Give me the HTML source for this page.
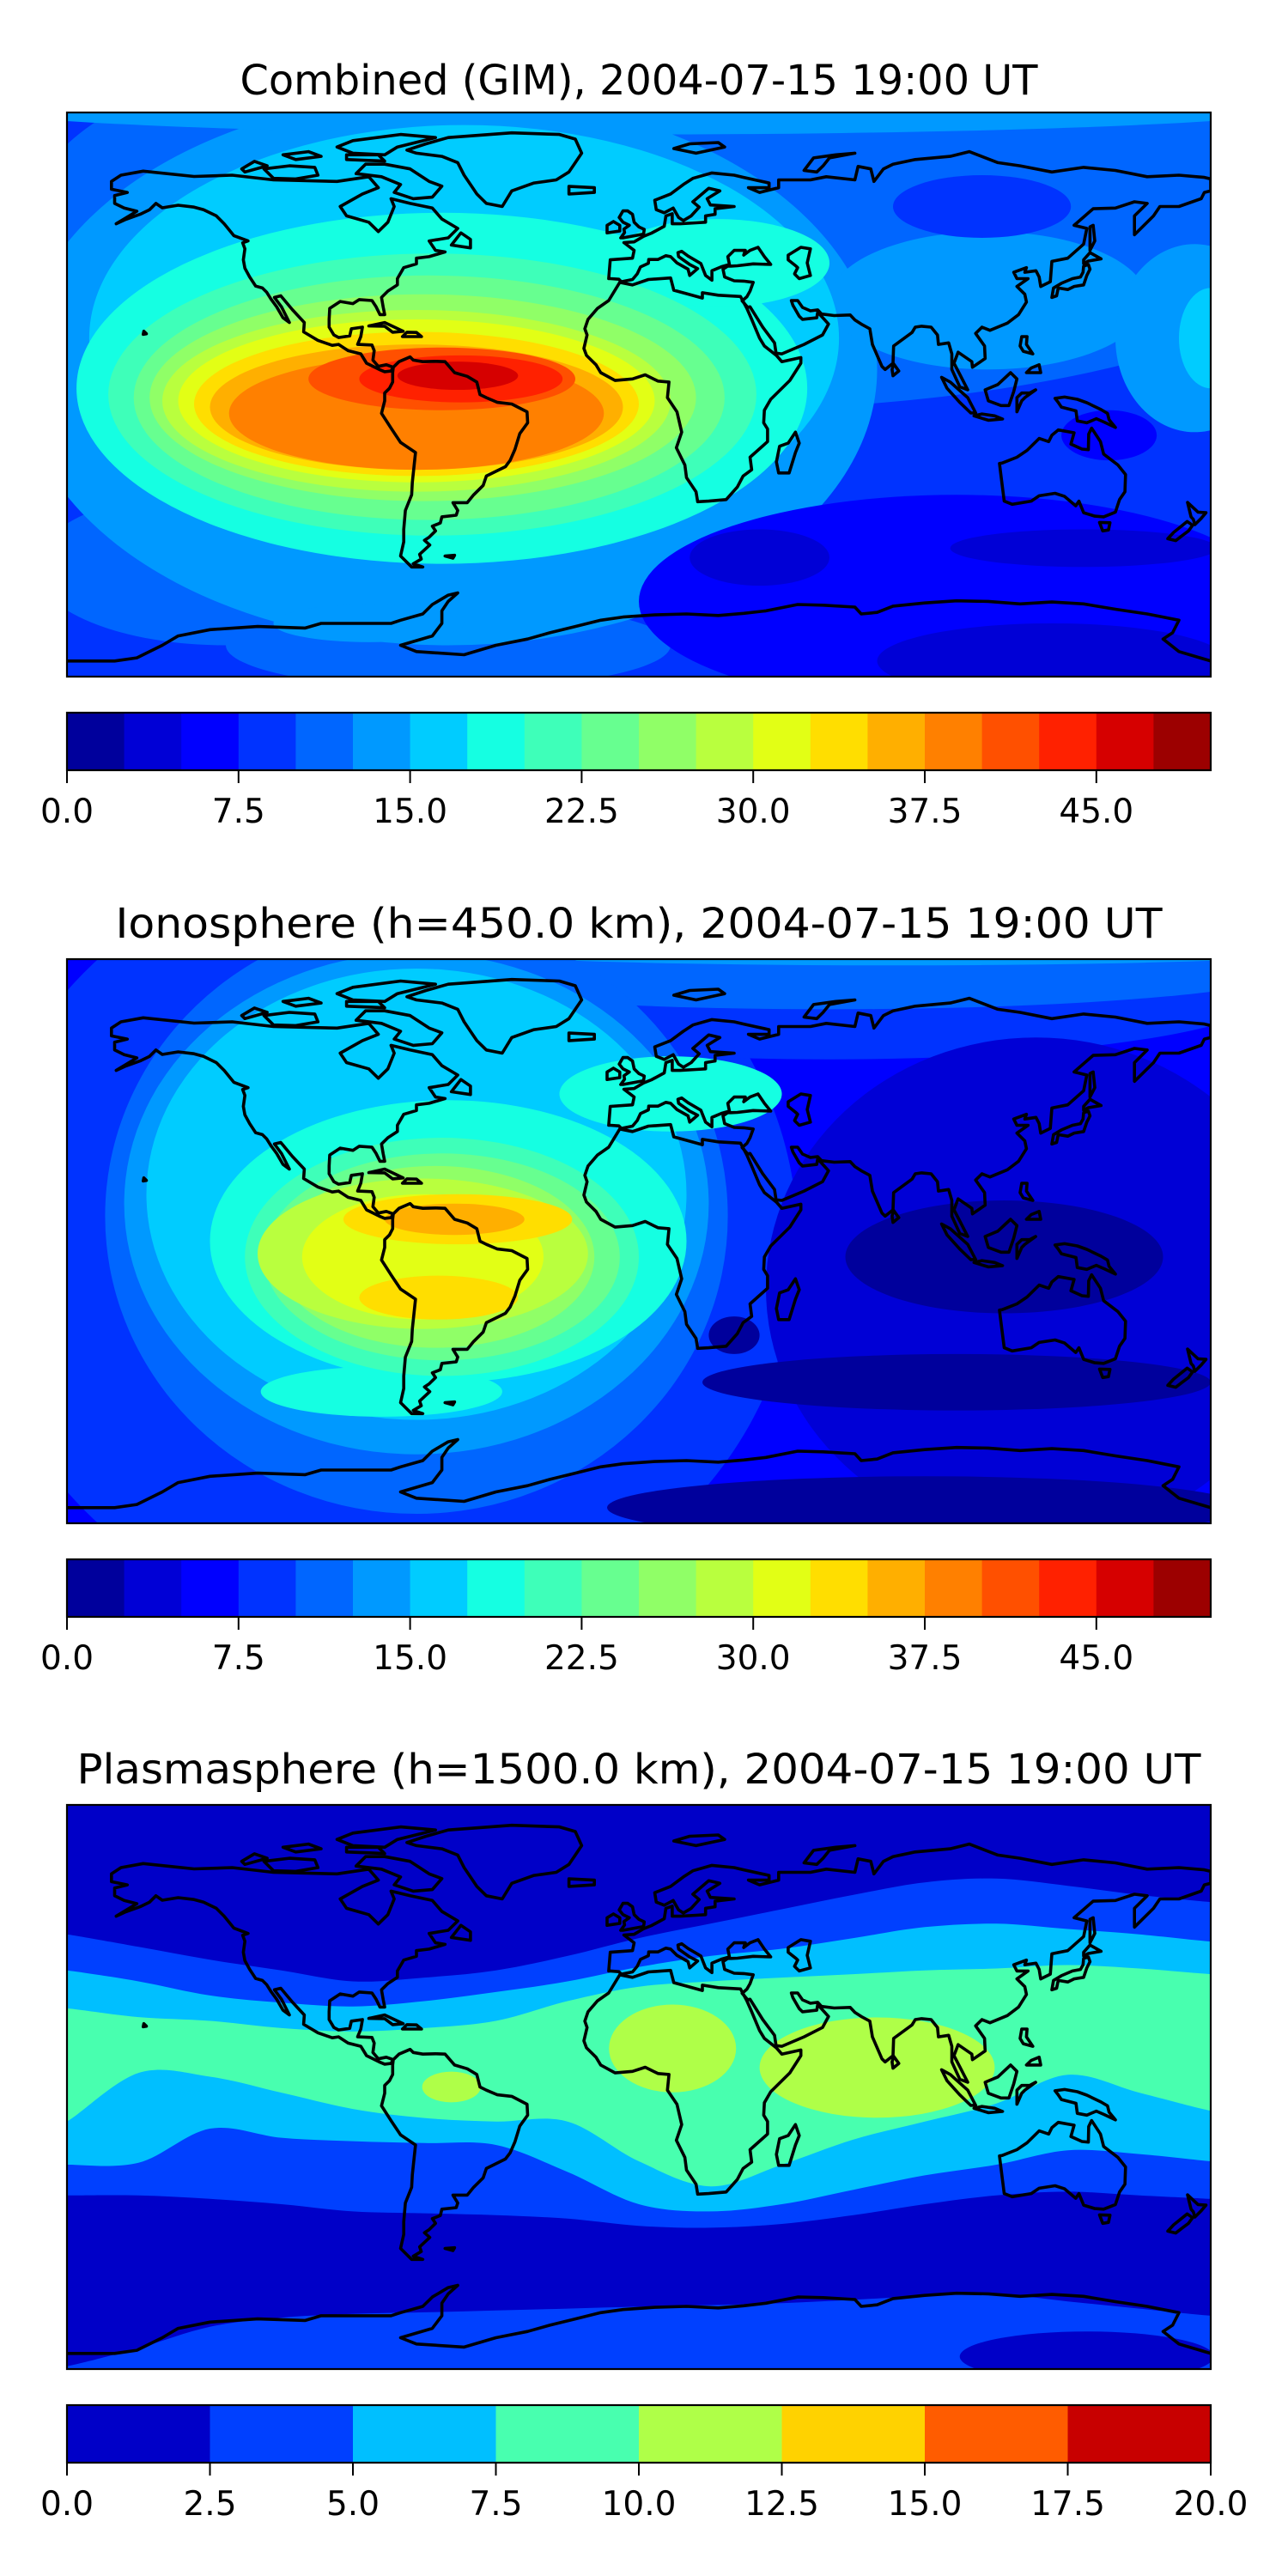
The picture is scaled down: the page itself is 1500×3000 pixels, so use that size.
<!DOCTYPE html>
<html>
<head>
<meta charset="utf-8">
<style>
html,body{margin:0;padding:0;background:#fff;}
svg{display:block;}
text{font-family:"DejaVu Sans","Liberation Sans",sans-serif;fill:#000;}
</style>
</head>
<body>
<svg id="fig" width="1500" height="3000" viewBox="0 0 1500 3000" xmlns="http://www.w3.org/2000/svg">
<defs>
<clipPath id="clip0"><rect x="78" y="131" width="1332" height="657"/></clipPath>
<clipPath id="clip1"><rect x="78" y="1117" width="1332" height="657"/></clipPath>
<clipPath id="clip2"><rect x="78" y="2102" width="1332" height="657"/></clipPath>
</defs>
</svg>
<script>
// ---------- data ----------
const panelTitles = ["Combined (GIM), 2004-07-15 19:00 UT","Ionosphere  (h=450.0 km), 2004-07-15 19:00 UT","Plasmasphere (h=1500.0 km), 2004-07-15 19:00 UT"];
const titleWidths = [929, 1219, 1309];
const gimLevelCount = 20, gimMax = 50;
const plasmaLevelCount = 8, plasmaMax = 20;
const gimTickValues = [0, 7.5, 15, 22.5, 30, 37.5, 45];
const gimTickLabels = ["0.0","7.5","15.0","22.5","30.0","37.5","45.0"];
const plasmaTickValues = [0, 2.5, 5, 7.5, 10, 12.5, 15, 17.5, 20];
const plasmaTickLabels = ["0.0","2.5","5.0","7.5","10.0","12.5","15.0","17.5","20.0"];

// blobs: [lon, lat, rxDeg, ryDeg, levelIndex]
const combinedBase = 3;
const combinedBlobs = [
 [20,60,210,65,4],[-130,-55,60,25,4],[-60,-80,70,14,4],
 [-60,8,135,88,5],[0,93,220,10,5],[110,30,50,22,5],[175,18,25,30,5],[-85,-73,30,6,5],
 [-55,18,118,68,6],[180,18,10,16,6],
 [100,-66,100,34,2],[38,-52,22,9,1],[140,-49,42,6,1],[130,-85,55,12,1],[108,60,28,10,3],[148,-13,15,8,2],
 [-62,2,115,56,7],[25,42,35,14,7],
 [-65,0,102,45,8],[-66,-1,93,39,9],[-68,-1,86,33,10],[-70,-2,80,29,11],[-70,-2,75,26,12],
 [-70,-3,70,23,13],[-70,-4,65,20,14],[-70,-6,59,18,15],[-62,5,42,10,16],[-56,5,32,7.5,17],[-57,6,19,4.5,18]
];
const ionoBase = 2;
const ionoBlobs = [
 [-80,0,130,125,3],[60,80,140,22,3],[60,88,150,14,4],[80,93,140,5,5],
 [-70,8,98,95,4],
 [125,-15,85,80,1],[115,-5,50,18,0],[100,-45,80,9,0],[90,-85,100,10,0],[30,-30,8,6,0],
 [-70,12,92,80,5],[-70,15,85,72,6],
 [-60,0,75,45,7],[10,47,35,12,7],[-81,-48,38,8,7],
 [-62,-5,62,38,8],[-62,-5,56,33,9],[-64,-5,50,29,10],[-68,-4,52,24,11],[-68,-5,38,20,12],
 [-57,7,36,8,13],[-63,-18,25,7,13],[-58,7,22,5,14]
];
// plasmasphere band boundaries: latitude at each longitude of plasmaLons
const plasmaLons = [-180,-157.5,-135,-112.5,-90,-67.5,-45,-22.5,0,22.5,45,67.5,90,112.5,135,157.5,180];
const boundA = [48.7,44.7,40.6,37.2,33.7,34.9,37.2,41.8,47.5,52.1,56.7,61.3,65.3,66.5,64.2,61.3,59.0];
const boundB = [37.2,33.7,29.2,26.9,25.7,27.4,30.3,33.7,38.3,41.8,44.1,47.5,51.0,52.1,50.4,48.7,46.4];
const boundC = [25.1,22.3,21.1,18.8,17.7,18.8,21.1,27.4,32.0,33.7,34.9,36.0,37.2,37.8,38.9,37.8,36.0];
const boundD = [-11.0,4.5,3.3,-1.8,-7.0,-9.9,-11.0,-11.0,-23.7,-31.7,-24.8,-16.8,-11.0,-5.3,3.9,-1.8,-7.6];
const boundE = [-24.8,-24.2,-13.3,-16.2,-17.3,-17.9,-18.5,-27.1,-37.4,-39.7,-37.4,-32.8,-28.2,-24.8,-20.2,-21.4,-23.7];
const boundF = [-34.6,-34.6,-35.7,-37.4,-39.7,-40.3,-40.9,-42.0,-44.3,-44.9,-43.7,-40.9,-37.4,-34.6,-33.4,-34.6,-35.7];
const boundG = [-89.1,-83.3,-76.5,-73.6,-72.4,-71.9,-71.3,-70.7,-70.1,-69.6,-69.0,-67.9,-66.7,-66.1,-68.4,-70.7,-73.0];
const plasmaBands = [["boundA","boundF",1],["boundB","boundE",2],["boundC","boundD",3]];
const plasmaBlobs = [[10.6,12.3,20,14,4],[75,6.2,37,16,4],[-59,0,9.2,4.9,4],[141,-86,40,8,0]];

// coastlines (lon, lat)
const coastPolys = [
 [[-166,68],[-163,70],[-156,71.3],[-140,69.6],[-128,70],[-115,68.5],[-95,68],[-85,69.5],[-82,66],[-87,64],[-94,60],[-92,57],[-85,55],[-82,52],[-79,55],[-77,60],[-78,62.5],[-72,61],[-65,59.5],[-62,56],[-57,53],[-60,50],[-66,49],[-64,46],[-61,45.5],[-66,44],[-70,43.5],[-70,41.7],[-74,40.5],[-76,37],[-76,35],[-79,33],[-81,31],[-80.5,28],[-80,25.5],[-81.5,25.5],[-82.7,28],[-84,30],[-88,30.3],[-90,29],[-94,29.7],[-97.3,27.5],[-97.5,24],[-97.5,21.5],[-96,19],[-94.5,18.2],[-91,18.7],[-90.5,21],[-87,21.5],[-87.5,18.5],[-88.5,16],[-84,15.8],[-83.3,14],[-83.7,11],[-82,9],[-79.5,9.5],[-77.3,8.7],[-78,7.5],[-80,7.3],[-81.7,8],[-85.7,10],[-87.5,13],[-91.5,14],[-94.5,16],[-96.5,15.7],[-101,17.3],[-105.5,20],[-105.3,23],[-109,27],[-112.7,31.5],[-114.7,31],[-112.5,28],[-110,23],[-112,24.5],[-114,28],[-115.8,30.5],[-117.2,32.7],[-118.5,34],[-120.6,34.6],[-122.5,37.5],[-124,40.3],[-124.5,43],[-124,46.5],[-124.7,48.4],[-123,49],[-127.5,50.7],[-130.5,54.5],[-133,57],[-137,59],[-140,59.8],[-145,60.4],[-150,59.6],[-152,61],[-154,59],[-157,57.5],[-161.5,55.9],[-164.5,54.5],[-158,58.5],[-162,59.5],[-165,61],[-165,63.5],[-161,64.5],[-166,65.5],[-166,68]],
 [[-73,78],[-67,80],[-60,82],[-40,83.5],[-25,83],[-20,81.5],[-18,77],[-20,74],[-22,71],[-26,68.5],[-33,67.5],[-40,65],[-43,60],[-48,61],[-51,64],[-53,67],[-55,70],[-57,74],[-62,76],[-70,77],[-73,78]],
 [[-80,73.5],[-72,72],[-66,68],[-62,66.5],[-65,63],[-71,62.5],[-77,64.5],[-75,67],[-81,69.5],[-89,70.5],[-86,73.5],[-80,73.5]],
 [[-118,72],[-110,73],[-102,72.5],[-101,70],[-108,68.8],[-115,69],[-118,72]],
 [[-90,77],[-80,76.5],[-76,79],[-64,82],[-75,83],[-90,81],[-95,79],[-90,77]],
 [[-125,72],[-121,74.4],[-117,73],[-124,71],[-125,72]],
 [[-92,75],[-80,74.5],[-82,76.5],[-92,76.5],[-92,75]],
 [[-108,75],[-100,76],[-104,77.5],[-112,76.5],[-108,75]],
 [[-59,47.7],[-53,46.8],[-53,49.5],[-56,51.6],[-59,47.7]],
 [[-85,21.9],[-80,23],[-74.2,20.2],[-77.5,19.9],[-80,21.8],[-85,21.9]],
 [[-74.4,18.5],[-68.4,18.5],[-70,19.8],[-73,19.9],[-74.4,18.5]],
 [[-156,19.2],[-155,19.4],[-155.8,20.2],[-156,19.2]],
 [[-77.3,8.7],[-75.5,10.5],[-72,12],[-71,11],[-68,10.5],[-64,10.6],[-61,10.5],[-58,7],[-54,5.8],[-51,4],[-50,0],[-48,-1],[-44.5,-2.5],[-40,-3],[-35.2,-5.5],[-35,-9],[-37.5,-12.5],[-39,-17.5],[-40.5,-21],[-42,-23],[-48,-26],[-49,-29],[-52,-32],[-54,-34.5],[-58.5,-34.5],[-57,-37],[-57.5,-38.5],[-62,-39],[-62.5,-41],[-65,-42],[-64,-43.5],[-66,-45.5],[-67.5,-46.5],[-65.8,-48],[-69,-51],[-68.5,-52.5],[-71,-54],[-68,-55],[-71.5,-55],[-75,-51.5],[-74,-47],[-74,-43],[-73.5,-37],[-71.5,-32],[-71.3,-28],[-70.3,-18.5],[-75,-15.3],[-77.8,-11],[-81,-6],[-80,-2],[-80,0.5],[-78.5,2],[-77.5,4],[-77.5,7],[-77.3,8.7]],
 [[-17,21],[-16,24],[-13,27.5],[-9.5,30],[-6,35.8],[-2,35],[3,36.7],[10,37.2],[11,33.3],[15,32.2],[20,30.8],[20,32.5],[25,31.7],[32,31.3],[34,27.5],[35.5,24],[38,18],[39.5,15.5],[43.3,12.5],[45,10.5],[51,11.8],[51,10],[47.5,4.5],[41.5,-1.5],[39.5,-5],[39.3,-9],[40.5,-11],[40.5,-15],[35,-20],[35.5,-24],[32.8,-26],[31,-29.5],[27.5,-33.5],[22,-34],[18.5,-34.2],[18,-31],[15,-26.5],[14.5,-22.5],[11.8,-17],[13.5,-12],[12,-5.5],[9,-1],[9.5,4],[6,4.3],[2,6.3],[-2,5],[-7.5,4.5],[-12,7],[-13.5,9.5],[-16.5,12.5],[-17.3,14.7],[-16.3,19],[-17,21]],
 [[49.3,-12],[50.5,-15.5],[49.3,-18.5],[47.3,-25],[44,-25],[43.3,-21.5],[44.3,-16.5],[47,-15.5],[49.3,-12]],
 [[-9.5,37],[-9,43],[-2,43.5],[-1.5,46],[-4.7,48.5],[-1.5,48.7],[1.5,50.5],[4,51.5],[8,53.7],[8.5,57],[10.5,57.7],[10.5,54.5],[13,54.5],[18,54.8],[21,55],[21,57],[24,57.5],[24,59.3],[30,60],[22.5,60.5],[21.5,62.5],[25.5,65],[22,65.8],[17,61.5],[19,59.8],[16.5,57],[14,55.5],[12.5,56.5],[10.8,59.5],[8,58],[5.5,59],[5,62],[10,64],[14,67],[17,69],[23,70.7],[30,70],[33,69.3],[41,67.5],[41,66],[34.5,66],[38,64.5],[44,66],[44,68.5],[54,68.5],[59,69.5],[68,68.5],[69,72.8],[73,72],[74,68],[77,72],[80,73.5],[87,75],[98,76],[104,77.5],[113,74],[120,73],[130,71],[140,72.5],[150,71.5],[160,69.5],[170,70],[178,69.3],[180,68.8],[180,65],[178,64.5],[177,62.5],[170,60],[164,60],[162,57],[156,51],[156,57],[160,61],[156,61.5],[150,59.5],[143,59.3],[137,54],[141,53],[140,48],[135,43.5],[130,42.5],[129.5,36],[126.5,34.5],[126,37.5],[125,39.5],[121.5,39],[122,40.5],[118,39],[119,37],[122.5,37],[119,34.5],[121.5,32],[122,29.5],[119.5,25.5],[116,22.8],[110.5,20.5],[108,21.5],[106,19.5],[108.8,15.5],[109,11.5],[105,8.7],[104.8,10.5],[100.5,13.5],[99.2,10],[101,6.5],[103.5,1.5],[101,2.5],[98.5,8],[98.5,13],[97.5,16.5],[94.3,16],[94,19],[92,21.5],[89,21.8],[87,21.5],[86,19.8],[80.2,15.5],[80,10],[77.5,8],[76.5,9],[73.5,16],[72.7,21],[70,22.5],[68,23.8],[66.5,25.4],[61.5,25.2],[57.5,25.7],[56.3,27],[54,26.7],[51.5,27.8],[50,30],[48,30],[48.5,28.5],[50.5,25],[51.5,24],[56,24.5],[56.3,26.3],[59.7,22.5],[57.8,19],[52,16],[45,13],[43.2,13.2],[42.7,16.5],[39,21.5],[35,28],[34.3,27.8],[32.5,29.9],[34,31.2],[35,33],[36,35.8],[33,36.2],[30,36.3],[27,37.5],[26.5,40],[28,41],[29,41],[31,41.1],[36,41.7],[41.5,41.5],[39.5,44],[37.5,47],[35,46],[33,44.5],[33.5,46],[30,46],[28,44],[28.5,41.5],[26,40.8],[23,39.5],[23,36.5],[21,38],[19.5,41.8],[15.5,44.2],[13.5,45.7],[12.3,45.3],[12.5,44],[16,41.5],[18.5,40.2],[16,38],[15.5,40],[12,42],[10,44],[8.5,44.3],[6,43.1],[3.1,43.1],[3,41.9],[0.5,40.7],[-0.5,38.5],[-2,36.7],[-5.5,36],[-6.3,36.8],[-8.9,37],[-9.5,37]],
 [[-5,50],[1.5,51.2],[1.7,52.7],[0,53.5],[-1.5,55],[-2,57.5],[-3.5,58.6],[-5,58.6],[-6.2,56.5],[-5,55],[-3,54],[-4.7,52.8],[-4.5,51.7],[-5.7,50],[-5,50]],
 [[-6,52.2],[-6,54],[-8,55.2],[-10,54],[-10,51.6],[-6,52.2]],
 [[-22,64],[-14,64.5],[-14,66],[-22,66.4],[-22,64]],
 [[130,31],[131.5,31.5],[132,34],[135,33.5],[137,34.5],[140,35],[141,38],[142,40],[141.5,41.5],[140,41],[139.8,39],[139,37.5],[136.5,37],[133,35.5],[130.5,34],[130,31]],
 [[140,41.8],[141.5,42.6],[145.5,43.3],[142,45.3],[140,43],[140,41.8]],
 [[142,46],[143.5,49],[143,54],[142,53.5],[142,46]],
 [[80,6],[81.8,7.5],[80.2,9.8],[79.7,8],[80,6]],
 [[120.5,18.5],[122.2,18.5],[122,16],[124,13],[121,13.8],[120,15.5],[120.5,18.5]],
 [[122,7],[126.5,7],[126,9.5],[123.5,8.5],[122,7]],
 [[109,1.5],[110,-2],[114,-3.5],[116.5,-3.5],[118,1],[119,5],[117,7],[113,3.2],[109,1.5]],
 [[95.3,5.5],[98,4],[103.5,-1],[106,-5.8],[104.5,-5.9],[101,-2.5],[97,2],[95.3,5.5]],
 [[105.5,-6.8],[108,-6.2],[112,-6.8],[114.5,-7.8],[110,-8.2],[105.5,-6.8]],
 [[119,-5.5],[120.5,-2],[121.5,-1],[124.9,1.5],[123,0.5],[120.5,0.5],[119,-1],[119,-5.5]],
 [[131,-1.2],[134,-0.8],[138,-1.5],[141,-2.6],[145.5,-4.8],[147.5,-6],[148,-8],[150,-10.5],[146.5,-8.8],[144,-7.7],[141,-9],[138,-8.4],[137.6,-5.2],[133,-4],[132,-2.5],[131,-1.2]],
 [[113.5,-22],[114,-26],[115,-34],[117.5,-35],[123.5,-34],[126,-32.3],[131,-31.5],[134,-32.5],[137.5,-35.5],[138.5,-34],[140,-37.7],[143.5,-38.8],[146.3,-39],[150,-37.5],[151.3,-33.5],[153,-31],[153.2,-25.5],[150.8,-22.5],[146.3,-19],[145.3,-15],[142.5,-10.7],[141.6,-12.6],[141.5,-17.6],[139.5,-17.4],[136,-15.8],[137,-12.2],[132,-11.3],[130,-13],[129,-15],[126,-14],[122.2,-17.8],[119,-20],[114.5,-21.8],[113.5,-22]],
 [[145,-40.8],[148.3,-40.9],[147.8,-43.2],[146,-43.5],[145,-40.8]],
 [[172.7,-34.4],[176,-37.5],[178.5,-37.7],[177,-39.5],[175,-41.5],[174.5,-39.8],[173.8,-39],[172.7,-34.4]],
 [[172.6,-40.5],[174.3,-41.7],[173,-43.5],[171,-45],[169,-46.6],[166.5,-46],[168.3,-44],[172.6,-40.5]],
 [[52,71.5],[56,71],[58,73],[60,75.5],[68,77],[62,76.5],[55,75.5],[52,71.5]],
 [[11,78.5],[16,80],[25,80.4],[27,79],[18,77],[11,78.5]],
 [[47,44.5],[51,47],[54,46.5],[53,42],[54,38],[50.5,37],[49,38.5],[50,40.5],[49.5,41],[47,43],[47,44.5]],
 [[-61,-51.5],[-58,-51.3],[-58.5,-52.2],[-61,-51.5]]
];
const antarcticLine = [[-180,-85],[-165,-85],[-158,-84],[-150,-80],[-145,-77],[-135,-75],[-120,-74],[-105,-74.5],[-100,-73],[-85,-73],[-78,-73],[-75,-72],[-68,-70],[-65,-67],[-60,-64],[-57,-63.3],[-60,-66],[-62,-69],[-62,-73],[-65,-77],[-75,-80],[-70,-82],[-55,-83],[-45,-80],[-35,-78],[-28,-76],[-20,-74],[-12,-72],[-5,-71],[5,-70.3],[15,-70],[25,-70.5],[33,-69.8],[40,-69],[50,-67],[58,-67.2],[68,-67.8],[70,-70],[75,-69.5],[80,-67.5],[90,-66.5],[100,-65.8],[110,-66],[120,-66.8],[130,-66.2],[140,-66.8],[150,-68.5],[160,-70],[165,-71],[170,-72],[168,-76],[165,-78],[170,-82],[180,-85]];

// ---------- helpers ----------
const NS = "http://www.w3.org/2000/svg";
const svg = document.getElementById("fig");
const mapL = 78, mapW = 1332, mapH = 657;
const panelTop = [131, 1117, 2102];
const cbarTop = [830, 1816, 2801], cbarH = 67;
const titleBase = [110, 1092, 2077];

function mk(tag, attrs, parent) {
  const e = document.createElementNS(NS, tag);
  for (const k in attrs) e.setAttribute(k, attrs[k]);
  (parent || svg).appendChild(e);
  return e;
}
function lerp(pts, t) {
  for (let i = 1; i < pts.length; i++) {
    if (t <= pts[i][0]) {
      const a = pts[i-1], b = pts[i];
      return a[1] + (b[1]-a[1]) * (t-a[0]) / (b[0]-a[0]);
    }
  }
  return pts[pts.length-1][1];
}
function jet(t) {
  const r = lerp([[0,0],[0.35,0],[0.66,1],[0.89,1],[1,0.5]], t);
  const g = lerp([[0,0],[0.125,0],[0.375,1],[0.64,1],[0.91,0],[1,0]], t);
  const b = lerp([[0,0.5],[0.11,1],[0.34,1],[0.65,0],[1,0]], t);
  return "rgb(" + Math.round(r*255) + "," + Math.round(g*255) + "," + Math.round(b*255) + ")";
}
function levelColor(i, n) { return jet((i + 0.5) / n); }
function xOf(lon) { return mapL + (lon + 180) / 360 * mapW; }
function yOf(lat, top) { return top + (90 - lat) / 180 * mapH; }
function smoothSeg(pts) {
  let d = "";
  for (let i = 0; i < pts.length - 1; i++) {
    const p0 = pts[Math.max(0,i-1)], p1 = pts[i], p2 = pts[i+1], p3 = pts[Math.min(pts.length-1,i+2)];
    const c1x = p1[0] + (p2[0]-p0[0])/6, c1y = p1[1] + (p2[1]-p0[1])/6;
    const c2x = p2[0] - (p3[0]-p1[0])/6, c2y = p2[1] - (p3[1]-p1[1])/6;
    d += " C" + c1x.toFixed(1) + "," + c1y.toFixed(1) + " " + c2x.toFixed(1) + "," + c2y.toFixed(1) + " " + p2[0].toFixed(1) + "," + p2[1].toFixed(1);
  }
  return d;
}

function drawBlobs(g, blobs, top, n) {
  blobs.forEach(function(b) {
    const el = mk("ellipse", {cx: xOf(b[0]), cy: yOf(b[1], top), rx: b[2]*mapW/360, ry: b[3]*mapH/180, fill: levelColor(b[4], n)}, g);
    
    
  });
}

function drawCoast(g, top) {
  const cg = mk("g", {fill: "none", stroke: "#000", "stroke-width": 3.6, "stroke-linejoin": "round"}, g);
  
  
  coastPolys.forEach(function(poly) {
    const d = poly.map(function(p, i) { return (i ? "L" : "M") + xOf(p[0]).toFixed(1) + "," + yOf(p[1], top).toFixed(1); }).join("") + "Z";
    const el = mk("path", {d: d}, cg);
    
    
  });
  const d2 = antarcticLine.map(function(p, i) { return (i ? "L" : "M") + xOf(p[0]).toFixed(1) + "," + yOf(p[1], top).toFixed(1); }).join("");
  const ant = mk("path", {d: d2}, cg);
  
  
}

function drawTitle(k) {
  const t = mk("text", {x: 744, y: titleBase[k], "font-size": 48, "text-anchor": "middle", textLength: titleWidths[k], lengthAdjust: "spacingAndGlyphs"});
  t.textContent = panelTitles[k];
  
  
}

function drawColorbar(k, n, vmax, tickVals, tickLabs) {
  const g = mk("g", {});
  
  
  const top = cbarTop[k];
  const bw = mapW / n;
  for (let i = 0; i < n; i++) {
    const r = mk("rect", {x: mapL + i*bw, y: top, width: bw + 0.6, height: cbarH, fill: levelColor(i, n)}, g);
    
    
  }
  const fr = mk("rect", {x: mapL, y: top, width: mapW, height: cbarH, fill: "none", stroke: "#000", "stroke-width": 2.2}, g);
  
  
  tickVals.forEach(function(v, i) {
    const x = mapL + v / vmax * mapW;
    const tk = mk("line", {x1: x, x2: x, y1: top + cbarH, y2: top + cbarH + 15, stroke: "#000", "stroke-width": 2}, g);
    
    
    const tl = mk("text", {x: x, y: top + cbarH + 61, "font-size": 39, "text-anchor": "middle"}, g);
    tl.textContent = tickLabs[i];
    
    
  });
}

function drawMapFrame(k) {
  const f = mk("rect", {x: mapL, y: panelTop[k], width: mapW, height: mapH, fill: "none", stroke: "#000", "stroke-width": 2.2});
  
  
}

// ---------- panel 1 & 2 ----------
[[combinedBase, combinedBlobs], [ionoBase, ionoBlobs]].forEach(function(cfg, k) {
  drawTitle(k);
  const g = mk("g", {"clip-path": "url(#clip" + k + ")"});
  
  
  const bg = mk("rect", {x: mapL, y: panelTop[k], width: mapW, height: mapH, fill: levelColor(cfg[0], gimLevelCount)}, g);
  
  
  drawBlobs(g, cfg[1], panelTop[k], gimLevelCount);
  drawCoast(g, panelTop[k]);
  drawMapFrame(k);
  drawColorbar(k, gimLevelCount, gimMax, gimTickValues, gimTickLabels);
});

// ---------- panel 3 ----------
(function() {
  const k = 2, top = panelTop[k];
  drawTitle(k);
  const g = mk("g", {"clip-path": "url(#clip2)"});
  
  
  const bg = mk("rect", {x: mapL, y: top, width: mapW, height: mapH, fill: levelColor(0, plasmaLevelCount)}, g);
  
  
  const bounds = {boundA: boundA, boundB: boundB, boundC: boundC, boundD: boundD, boundE: boundE, boundF: boundF};
  plasmaBands.forEach(function(band) {
    const north = bounds[band[0]], south = bounds[band[1]];
    const np = plasmaLons.map(function(lon, i) { return [xOf(lon), yOf(north[i], top)]; });
    const sp = plasmaLons.map(function(lon, i) { return [xOf(lon), yOf(south[i], top)]; }).reverse();
    np.unshift([np[0][0]-20, np[0][1]]); np.push([np[np.length-1][0]+20, np[np.length-1][1]]);
    sp.unshift([sp[0][0]+20, sp[0][1]]); sp.push([sp[sp.length-1][0]-20, sp[sp.length-1][1]]);
    const d = "M" + np[0][0] + "," + np[0][1] + smoothSeg(np) + " L" + sp[0][0] + "," + sp[0][1] + smoothSeg(sp) + "Z";
    const el = mk("path", {d: d, fill: levelColor(band[2], plasmaLevelCount)}, g);
    
    
  });
  const gp = plasmaLons.map(function(lon, i) { return [xOf(lon), yOf(boundG[i], top)]; });
  gp.unshift([gp[0][0]-20, gp[0][1]]); gp.push([gp[gp.length-1][0]+20, gp[gp.length-1][1]]);
  const dG = "M" + gp[0][0] + "," + gp[0][1] + smoothSeg(gp) + " L" + (mapL+mapW+30) + "," + (top+mapH+30) + " L" + (mapL-30) + "," + (top+mapH+30) + "Z";
  const pol = mk("path", {d: dG, fill: levelColor(1, plasmaLevelCount)}, g);
  
  
  drawBlobs(g, plasmaBlobs, top, plasmaLevelCount);
  drawCoast(g, top);
  drawMapFrame(k);
  drawColorbar(k, plasmaLevelCount, plasmaMax, plasmaTickValues, plasmaTickLabels);
})();
</script>
</body>
</html>
